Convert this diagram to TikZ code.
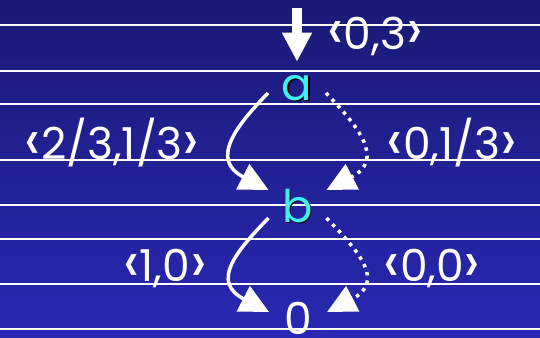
\documentclass[tikz,border=0pt]{standalone}
\usepackage{fontspec}
\setmainfont{Poppins}
\usetikzlibrary{arrows.meta}
\definecolor{bgtop}{RGB}{26,26,118}
\definecolor{bgbot}{RGB}{40,40,180}
\definecolor{letc}{RGB}{64,240,240}
\newcommand{\lbr}{\raisebox{-1pt}{\scalebox{1.35}{‹}}}
\newcommand{\rbr}{\raisebox{-1pt}{\scalebox{1.35}{›}}}
\begin{document}
\begin{tikzpicture}[x=1pt,y=-1pt,
  lbl/.style={text=white,font=\fontsize{44}{44}\selectfont,inner sep=0pt,anchor=base},
  statelbl/.style={text=letc,font=\fontsize{45}{45}\selectfont,inner sep=0pt,anchor=base},
  shadowlbl/.style={text=black,font=\fontsize{45}{45}\selectfont,inner sep=0pt,anchor=base},
  ruleline/.style={white,line width=1.3pt},
  solidarr/.style={white,line width=3.5pt,-{Triangle[length=29pt,width=28pt]}},
  dotarr/.style={white,line width=3.5pt,dash pattern=on 3.5pt off 5pt,-{Triangle[length=29pt,width=28pt]}},
  toparr/.style={white,line width=9.5pt,-{Triangle[length=29pt,width=28pt]}}]
\useasboundingbox (0,0) rectangle (540,337);
\shade[top color=bgtop,bottom color=bgbot] (0,0) rectangle (540,337);
\foreach \yy in {25,71,104,160,205,239,284,329}
  \draw[ruleline] (0,\yy) -- (540,\yy);
% states
\node[shadowlbl] at (298.5,101.5) {a};
\node[statelbl] (a) at (297,100) {a};
\node[shadowlbl] at (299,223.5) {b};
\node[statelbl] (b) at (297.5,222) {b};
\node[lbl] (z) at (298,334) {0};
% labels
\node[lbl] (l03) at (375,49) {\lbr0,3\rbr};
\node[lbl] (l2313) at (112,159) {\lbr2/3,1/3\rbr};
\node[lbl] (l013) at (452,159) {\lbr0,1/3\rbr};
\node[lbl] (l10) at (165,281) {\lbr1,0\rbr};
\node[lbl] (l00) at (432,281) {\lbr0,0\rbr};
% arrows
\coordinate (in0) at (297,8);
\draw[toparr,shorten >=13pt] (in0) -- (a);
\draw[solidarr] ([shift={(-29,-7)}]a.base) .. controls +(-34,35) and +(-58,-30) .. ([shift={(-29,-32)}]b.base);
\draw[dotarr] ([shift={(29,-7)}]a.base) .. controls +(34,35) and +(58,-30) .. ([shift={(29,-32)}]b.base);
\draw[solidarr] ([shift={(-29,-4)}]b.base) .. controls +(-34,35) and +(-58,-30) .. ([shift={(-29,-22)}]z.base);
\draw[dotarr] ([shift={(29,-4)}]b.base) .. controls +(34,35) and +(58,-30) .. ([shift={(29,-22)}]z.base);
\end{tikzpicture}
\end{document}
